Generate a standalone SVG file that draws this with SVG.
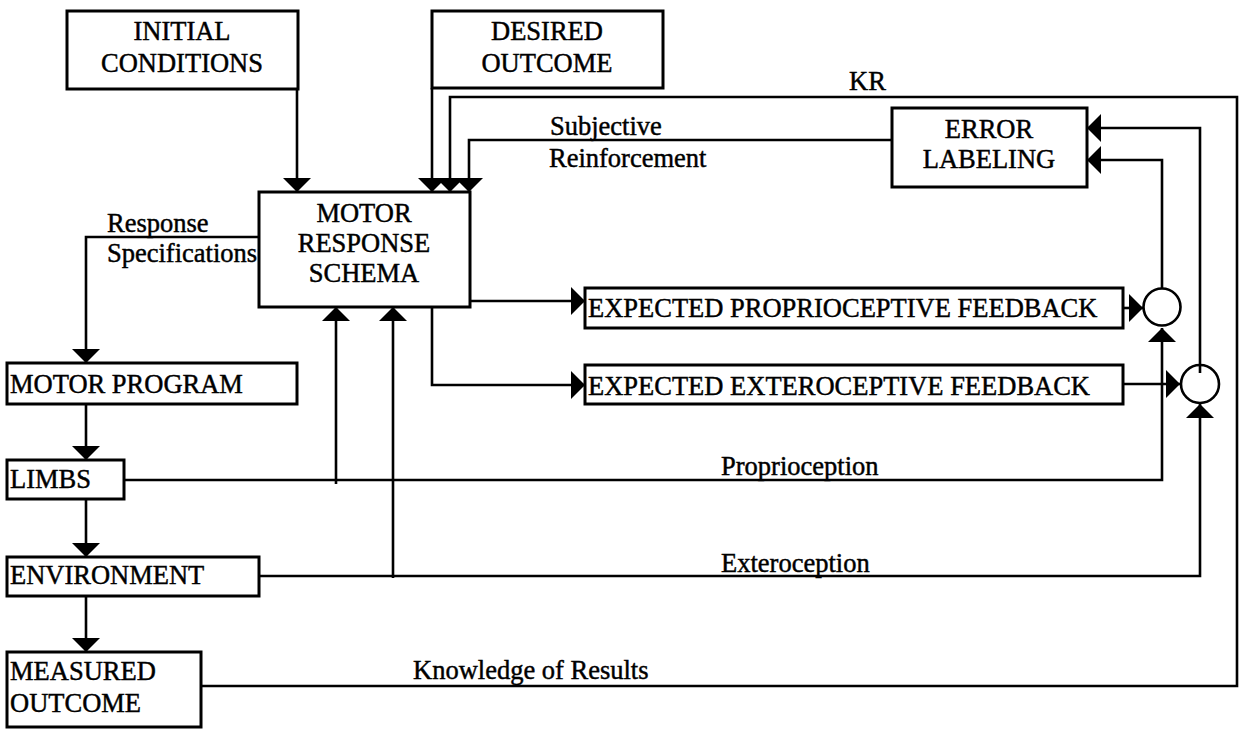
<svg xmlns="http://www.w3.org/2000/svg" width="1247" height="729" viewBox="0 0 1247 729">
<style>
.box{fill:#fff;stroke:#000;stroke-width:3}
.ln{fill:none;stroke:#000;stroke-width:2.6}
.arr{fill:none;stroke:#000;stroke-width:2.6;marker-end:url(#ah)}
text{font-family:"Liberation Serif","Times New Roman",serif;font-size:26.5px;fill:#000;stroke:#000;stroke-width:0.45}
.c{text-anchor:middle}
</style>
<defs>
<marker id="ah" markerUnits="userSpaceOnUse" markerWidth="14" markerHeight="28" viewBox="0 0 14 28" refX="14" refY="14" orient="auto">
<path d="M0,0 L14,14 L0,28 Z" fill="#000"/>
</marker>
</defs>
<rect width="1247" height="729" fill="#fff"/>
<g id="connectors">
<path class="arr" d="M297,89 V192"/>
<path class="arr" d="M432,88 V192"/>
<path class="arr" d="M201,686 H1237 V97 H450 V192"/>
<path class="arr" d="M892,140 H469 V192"/>
<path class="arr" d="M259,237 H86 V363"/>
<path class="arr" d="M86,404 V460"/>
<path class="arr" d="M86,499 V557"/>
<path class="arr" d="M86,596 V652"/>
<path class="arr" d="M470,301 H585"/>
<path class="arr" d="M432,307 V385 H585"/>
<path class="arr" d="M1123,308 H1143"/>
<path class="arr" d="M1123,384 H1180"/>
<path class="arr" d="M1162,288 V160 H1087"/>
<path class="arr" d="M1200,373 V128 H1087"/>
<path class="arr" d="M124,480 H1162 V328"/>
<path class="arr" d="M336,484 V307"/>
<path class="arr" d="M259,576 H1200 V404"/>
<path class="arr" d="M393,578 V307"/>
</g>
<g id="initial-conditions"><rect class="box" x="67" y="11" width="231" height="78"/><text class="c" x="182" y="40">INITIAL</text><text class="c" x="182" y="72">CONDITIONS</text></g>
<g id="desired-outcome"><rect class="box" x="432" y="11" width="231" height="77"/><text class="c" x="547" y="40">DESIRED</text><text class="c" x="547" y="72">OUTCOME</text></g>
<g id="motor-response-schema"><rect class="box" x="259" y="192" width="211" height="115"/><text class="c" x="364" y="222">MOTOR</text><text class="c" x="364" y="252">RESPONSE</text><text class="c" x="364" y="282">SCHEMA</text></g>
<g id="error-labeling"><rect class="box" x="892" y="108" width="195" height="79"/><text class="c" x="989" y="138">ERROR</text><text class="c" x="989" y="168">LABELING</text></g>
<g id="expected-proprioceptive"><rect class="box" x="585" y="288" width="538" height="40"/><text x="588" y="317">EXPECTED PROPRIOCEPTIVE FEEDBACK</text></g>
<g id="expected-exteroceptive"><rect class="box" x="585" y="365" width="538" height="39"/><text x="588" y="395">EXPECTED EXTEROCEPTIVE FEEDBACK</text></g>
<g id="comparator-1"><circle cx="1162" cy="307" r="18.5" fill="none" stroke="#000" stroke-width="2.6"/></g>
<g id="comparator-2"><circle cx="1200" cy="384" r="19" fill="none" stroke="#000" stroke-width="2.6"/></g>
<g id="motor-program"><rect class="box" x="7" y="363" width="290" height="41"/><text x="10" y="393">MOTOR PROGRAM</text></g>
<g id="limbs"><rect class="box" x="7" y="460" width="117" height="39"/><text x="10" y="488">LIMBS</text></g>
<g id="environment"><rect class="box" x="7" y="557" width="252" height="39"/><text x="10" y="584">ENVIRONMENT</text></g>
<g id="measured-outcome"><rect class="box" x="7" y="652" width="194" height="75"/><text x="10" y="680">MEASURED</text><text x="10" y="712">OUTCOME</text></g>
<g id="labels">
<text x="107" y="232">Response</text>
<text x="107" y="262">Specifications</text>
<text x="550" y="135">Subjective</text>
<text x="549" y="167">Reinforcement</text>
<text x="849" y="90">KR</text>
<text x="721" y="475">Proprioception</text>
<text x="721" y="572">Exteroception</text>
<text x="413" y="679">Knowledge of Results</text>
</g>
</svg>
